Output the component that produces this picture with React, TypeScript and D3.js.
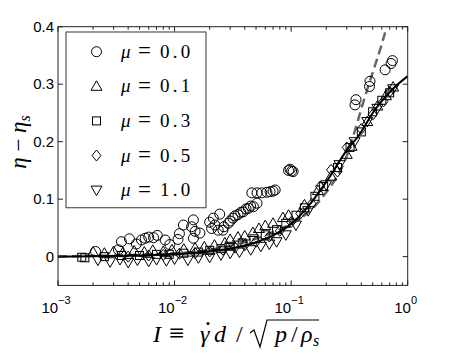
import React from "react";
import * as d3 from "d3";

// μ = 0.0 (circles)
const mu00I = [0.0021, 0.0033, 0.0035, 0.0041, 0.0047, 0.0052, 0.0056, 0.006, 0.0066, 0.0071, 0.0083, 0.0091, 0.0107, 0.011, 0.0119, 0.014, 0.0145, 0.0145, 0.015, 0.0165, 0.02, 0.0208, 0.0215, 0.0222, 0.0237, 0.0244, 0.026, 0.0265, 0.0289, 0.03, 0.0317, 0.033, 0.035, 0.037, 0.0388, 0.041, 0.043, 0.045, 0.0475, 0.051, 0.046, 0.051, 0.056, 0.062, 0.066, 0.07, 0.073, 0.095, 0.098, 0.101, 0.104, 0.353, 0.36, 0.47, 0.475, 0.64, 0.72, 0.74];
const mu00E = [0.009, 0.012, 0.026, 0.031, 0.022, 0.029, 0.032, 0.034, 0.033, 0.037, 0.029, 0.021, 0.03, 0.04, 0.055, 0.052, 0.064, 0.032, 0.044, 0.041, 0.06, 0.049, 0.067, 0.055, 0.046, 0.074, 0.046, 0.052, 0.058, 0.062, 0.067, 0.071, 0.073, 0.077, 0.078, 0.083, 0.084, 0.088, 0.087, 0.093, 0.111, 0.111, 0.111, 0.112, 0.113, 0.114, 0.116, 0.15, 0.152, 0.149, 0.148, 0.264, 0.273, 0.296, 0.305, 0.325, 0.336, 0.341];

// μ = 0.1 (triangles up)
const mu01I = [0.002, 0.0025, 0.003, 0.0036, 0.0045, 0.0055, 0.0065, 0.008, 0.0095, 0.012, 0.015, 0.018, 0.022, 0.027, 0.03, 0.035, 0.04, 0.047, 0.053, 0.06, 0.07, 0.085, 0.095, 0.13, 0.17, 0.22, 0.3, 0.33, 0.45, 0.55, 0.65, 0.75];
const mu01E = [0.008, 0.006, 0.009, 0.007, 0.01, 0.008, 0.011, 0.009, 0.012, 0.013, 0.015, 0.017, 0.02, 0.024, 0.03, 0.034, 0.036, 0.042, 0.049, 0.054, 0.058, 0.068, 0.072, 0.09, 0.115, 0.14, 0.178, 0.192, 0.235, 0.262, 0.28, 0.295];

// μ = 0.3 (squares)
const mu03I = [0.0016, 0.0017, 0.0025, 0.0035, 0.005, 0.007, 0.009, 0.012, 0.016, 0.02, 0.025, 0.03, 0.038, 0.048, 0.06, 0.075, 0.09, 0.11, 0.13, 0.16, 0.19, 0.25, 0.32, 0.4, 0.5, 0.6, 0.7];
const mu03E = [-0.001, -0.002, 0.0, 0.002, 0.002, 0.004, 0.004, 0.006, 0.008, 0.011, 0.014, 0.018, 0.024, 0.031, 0.038, 0.047, 0.058, 0.072, 0.085, 0.105, 0.122, 0.155, 0.19, 0.217, 0.252, 0.272, 0.285];

// μ = 0.5 (diamonds)
const mu05I = [0.004, 0.006, 0.008, 0.011, 0.015, 0.02, 0.026, 0.033, 0.04, 0.05, 0.065, 0.08, 0.1, 0.12, 0.15, 0.177, 0.22, 0.25, 0.3, 0.4, 0.5, 0.62, 0.7];
const mu05E = [0.0, 0.002, 0.003, 0.005, 0.006, 0.009, 0.012, 0.016, 0.02, 0.026, 0.035, 0.045, 0.06, 0.075, 0.092, 0.122, 0.151, 0.148, 0.19, 0.222, 0.247, 0.27, 0.287];

// μ = 1.0 (triangles down)
const mu10I = [0.0022, 0.0028, 0.0034, 0.004, 0.0048, 0.006, 0.007, 0.0085, 0.01, 0.013, 0.016, 0.02, 0.025, 0.03, 0.036, 0.045, 0.055, 0.065, 0.075, 0.09, 0.11, 0.14, 0.2, 0.26, 0.35, 0.45, 0.55, 0.75];
const mu10E = [-0.006, -0.009, -0.005, -0.01, -0.006, -0.008, -0.005, -0.007, -0.004, -0.006, -0.002, -0.001, 0.003, 0.006, 0.008, 0.012, 0.018, 0.022, 0.026, 0.038, 0.055, 0.08, 0.125, 0.16, 0.2, 0.235, 0.258, 0.292];

// fit curves
const fitI = [0.001, 0.002, 0.005, 0.01, 0.02, 0.03, 0.05, 0.07, 0.1, 0.15, 0.2, 0.3, 0.375, 0.525, 0.73, 1.0];
const fitE = [0.0, 0.0005, 0.002, 0.004, 0.009, 0.014, 0.025, 0.037, 0.057, 0.095, 0.13, 0.185, 0.209, 0.256, 0.29, 0.314];
const dashI = [0.001, 0.01, 0.1, 0.2, 0.28, 0.44, 0.66, 0.72];
const dashE = [0.0006, 0.0058, 0.057, 0.112, 0.16, 0.285, 0.4, 0.43];

const legendLabels = ["0.0", "0.1", "0.3", "0.5", "1.0"];
const yTicks = [0, 0.1, 0.2, 0.3, 0.4];
const yTickLabels = ["0", "0.1", "0.2", "0.3", "0.4"];
const xTicks = [1e-3, 1e-2, 1e-1, 1];
const xTickExps = ["\u22123", "\u22122", "\u22121", "0"];

const L = 58, R = 407.7, T = 26.7, B = 285.4;

function marker(kind: string, cx: number, cy: number, key: string | number) {
  const st = { fill: "none", stroke: "#000", strokeWidth: 1 };
  if (kind === "circle") return <circle key={key} cx={cx} cy={cy} r={5} {...st} />;
  if (kind === "square") return <rect key={key} x={cx - 4} y={cy - 4} width={8} height={8} {...st} />;
  if (kind === "diamond") return <path key={key} d={`M${cx},${cy - 5.5}L${cx + 4.5},${cy}L${cx},${cy + 5.5}L${cx - 4.5},${cy}Z`} {...st} />;
  if (kind === "up") return <path key={key} d={`M${cx},${cy - 5.5}L${cx + 5.5},${cy + 4}L${cx - 5.5},${cy + 4}Z`} {...st} />;
  return <path key={key} d={`M${cx},${cy + 5.5}L${cx + 5.5},${cy - 4}L${cx - 5.5},${cy - 4}Z`} {...st} />;
}

export default function App() {
  const x = d3.scaleLog().domain([1e-3, 1]).range([L, R]);
  const y = d3.scaleLinear().domain([-0.05, 0.4]).range([B, T]);
  const series = [
    { kind: "circle", I: mu00I, E: mu00E },
    { kind: "up", I: mu01I, E: mu01E },
    { kind: "square", I: mu03I, E: mu03E },
    { kind: "diamond", I: mu05I, E: mu05E },
    { kind: "down", I: mu10I, E: mu10E },
  ];
  const line = d3.line<[number, number]>().x(d => x(d[0])).y(d => y(d[1])).curve(d3.curveMonotoneX);
  const fit = line(fitI.map((v, i) => [v, fitE[i]] as [number, number])) || "";
  const dash = line(dashI.map((v, i) => [v, dashE[i]] as [number, number])) || "";
  const minor: number[] = [];
  for (let e = -3; e < 0; e++) for (let k = 2; k <= 9; k++) minor.push(k * Math.pow(10, e));
  const sans = "'Liberation Sans', Arial, sans-serif";
  const serif = "'Liberation Serif', 'Times New Roman', serif";
  const kinds = ["circle", "up", "square", "diamond", "down"];
  return (
    <svg width={450} height={359} style={{ position: "absolute", left: 0, top: 0, background: "#fff" }}>
      <defs>
        <clipPath id="plot"><rect x={L} y={T} width={R - L} height={B - T} /></clipPath>
      </defs>
      <rect x={0} y={0} width={450} height={359} fill="#fff" />
      <g clipPath="url(#plot)">
        <path d={dash} fill="none" stroke="#666" strokeWidth={2.5} strokeDasharray="9,5" />
        {series.map((s, si) => (
          <g key={si}>{s.I.map((v, i) => marker(s.kind, x(v), y(s.E[i]), i))}</g>
        ))}
        <path d={fit} fill="none" stroke="#000" strokeWidth={2} />
      </g>
      <rect x={L} y={T} width={R - L} height={B - T} fill="none" stroke="#222" strokeWidth={1} />
      {xTicks.map((t, i) => (
        <g key={"xt" + i}>
          <line x1={x(t)} x2={x(t)} y1={B} y2={B - 5} stroke="#222" />
          <line x1={x(t)} x2={x(t)} y1={T} y2={T + 5} stroke="#222" />
        </g>
      ))}
      {minor.map((t, i) => (
        <g key={"xm" + i}>
          <line x1={x(t)} x2={x(t)} y1={B} y2={B - 3} stroke="#222" />
          <line x1={x(t)} x2={x(t)} y1={T} y2={T + 3} stroke="#222" />
        </g>
      ))}
      {yTicks.map((t, i) => (
        <g key={"yt" + i}>
          <line x1={L} x2={L + 5} y1={y(t)} y2={y(t)} stroke="#222" />
          <line x1={R} x2={R - 5} y1={y(t)} y2={y(t)} stroke="#222" />
          <text x={L - 4} y={y(t) + 5} textAnchor="end" fontFamily={sans} fontSize={15} fill="#000">{yTickLabels[i]}</text>
        </g>
      ))}
      {xTicks.map((t, i) => (
        <text key={"xl" + i} x={x(t) - 2} y={313} textAnchor="middle" fontFamily={sans} fontSize={15} fill="#000">
          10<tspan dy={-9} fontSize={11}>{xTickExps[i]}</tspan>
        </text>
      ))}
      <rect x={66} y={32} width={140} height={175.7} fill="#fff" stroke="#555" strokeWidth={1.2} />
      {legendLabels.map((lab, i) => {
        const cy = 51.7 + i * 34.6;
        return (
          <g key={"lg" + i} fontFamily={serif} fontSize={19} fill="#000">
            {marker(kinds[i], 96.5, cy, "m" + i)}
            <text x={121} y={cy + 6} fontStyle="italic">μ</text>
            <text x={138} y={cy + 6.5} fontSize={23}>=</text>
            <text x={160} y={cy + 6} letterSpacing={3.2}>{lab}</text>
          </g>
        );
      })}
      <text transform="translate(26,142) rotate(-90)" textAnchor="middle" fontFamily={serif} fontSize={23} fill="#000">
        <tspan fontStyle="italic">η</tspan>
        <tspan> − </tspan>
        <tspan fontStyle="italic">η</tspan>
        <tspan fontStyle="italic" fontSize={16} dy={4}>s</tspan>
      </text>
      <g fontFamily={serif} fontSize={24} fill="#000">
        <text x={153} y={342} fontStyle="italic">I</text>
        <text x={169} y={342} fontSize={27}>≡</text>
        <text x={200} y={342} fontStyle="italic">γ</text>
        <circle cx={208} cy={323.5} r={1.5} fill="#000" />
        <text x={214} y={342} fontStyle="italic">d</text>
        <text x={236} y={342}>/</text>
        <path d="M250,333 L254,330 L260,347 L267,320 L319,320" fill="none" stroke="#000" strokeWidth={1.2} />
        <text x={275} y={342} fontStyle="italic">p</text>
        <text x={291} y={342}>/</text>
        <text x={301} y={342} fontStyle="italic">ρ</text>
        <text x={313} y={346} fontStyle="italic" fontSize={16}>s</text>
      </g>
    </svg>
  );
}
